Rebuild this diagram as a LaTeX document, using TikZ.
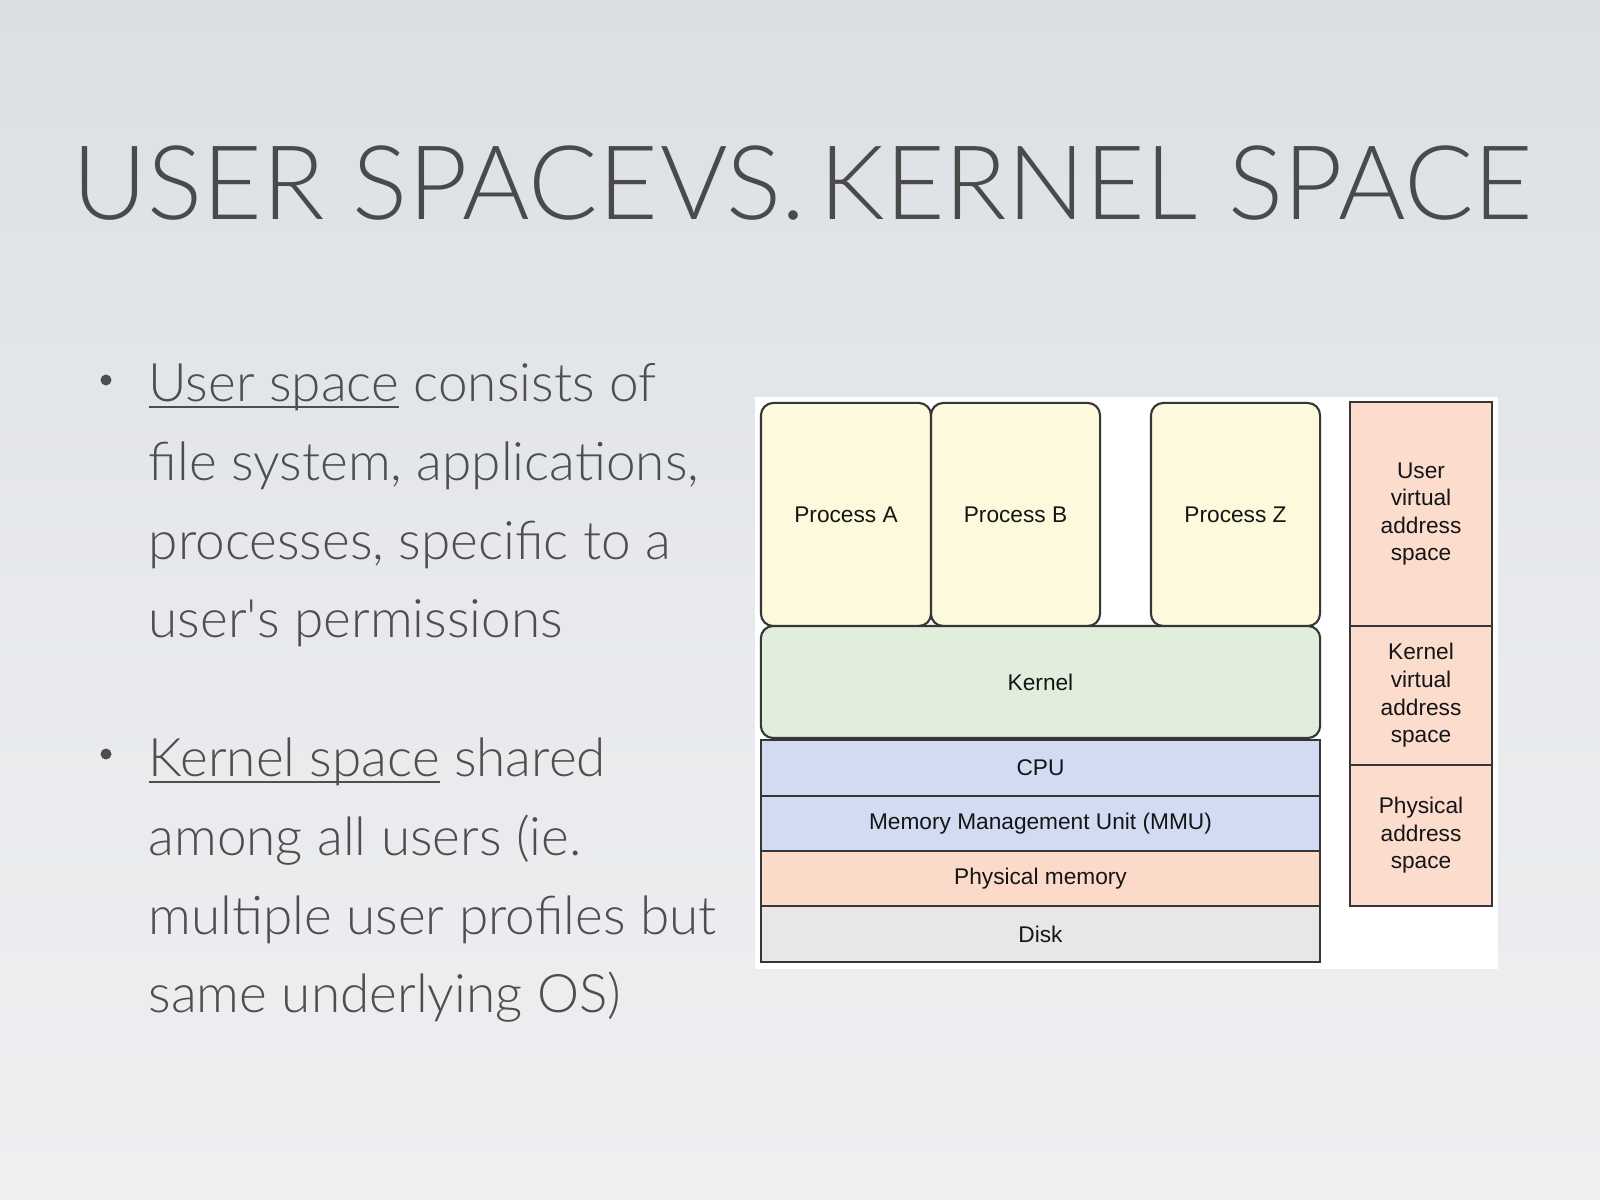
\documentclass[tikz,border=0pt]{standalone}
\usepackage{fontspec}
\setmainfont{Liberation Sans}
\newfontfamily\slidefont{Lato Light}
\definecolor{bgtop}{HTML}{DBDFE4}
\definecolor{bgmid}{HTML}{E7E9EC}
\definecolor{bgbot}{HTML}{EDEFF1}
\definecolor{titlegray}{HTML}{4A4A4A}
\definecolor{bodygray}{HTML}{4E4E4E}
\definecolor{boxline}{HTML}{363636}
\definecolor{diatext}{HTML}{151515}
\definecolor{procfill}{HTML}{FDF9DC}
\definecolor{kernfill}{HTML}{E1EEDC}
\definecolor{cpufill}{HTML}{D1DCF2}
\definecolor{physfill}{HTML}{FBDACA}
\definecolor{diskfill}{HTML}{E7E7E7}
\definecolor{addrfill}{HTML}{FCDCCD}
\newcommand\diafont{\fontsize{6.45}{7.85}\selectfont}
\newcommand\bodyfont{\slidefont\fontsize{15.1}{20}\selectfont}
\newcommand\myul[1]{\setbox0\hbox{#1}\rlap{\rule[-2.0pt]{\wd0}{0.55pt}}\box0\relax}
\begin{document}
\begin{tikzpicture}[x=0.01cm,y=-0.01cm,
  procbox/.style={draw=boxline, line width=0.6pt, rounded corners=3.5pt, fill=procfill, inner sep=0pt, font=\diafont, text=diatext},
  layerbox/.style={draw=boxline, line width=0.6pt, inner sep=0pt, font=\diafont, text=diatext, minimum width=5.59cm},
  addrbox/.style={draw=boxline, line width=0.6pt, inner sep=0pt, font=\diafont, text=diatext, fill=addrfill, minimum width=1.42cm, align=center},
  titletext/.style={anchor=base west, inner sep=0pt, text=titlegray, font=\slidefont\fontsize{29.3}{36}\selectfont},
  bodyline/.style={anchor=base west, inner sep=0pt, text=bodygray, font=\bodyfont},
  bulletdot/.style={circle, fill=bodygray, inner sep=0pt, minimum size=0.11cm}
]
\useasboundingbox (0,0) rectangle (1600,1200);
\shade[top color=bgtop, bottom color=bgbot, middle color=bgmid] (0,0) rectangle (1600,1200);

% title
\node[titletext] (title) at (72,219) {USER SPACE\hspace{-7.3pt} VS.\hspace{-4.0pt} KERNEL\hspace{0.9pt} SPACE};

% bullets
\node[bulletdot] (d1) at (106,380) {};
\node[bodyline] (b1a) at (148,401) {\myul{User space} consists of};
\node[bodyline] (b1b) at (148,480) {file system, applications,};
\node[bodyline] (b1c) at (148,559) {processes, specific to a};
\node[bodyline] (b1d) at (148,637) {user\textquotesingle s permissions};
\node[bulletdot] (d2) at (106,754) {};
\node[bodyline] (b2a) at (148,776) {\myul{Kernel space} shared};
\node[bodyline] (b2b) at (148,855) {among all users (ie.};
\node[bodyline] (b2c) at (148,934) {multiple user profiles but};
\node[bodyline] (b2d) at (148,1012) {same underlying OS)};

% diagram panel
\fill[white] (755,397) rectangle (1498,969);

\node[procbox, minimum width=1.70cm, minimum height=2.23cm] (pa) at (846,514.5) {Process A};
\node[procbox, minimum width=1.69cm, minimum height=2.23cm] (pb) at (1015.5,514.5) {Process B};
\node[procbox, minimum width=1.69cm, minimum height=2.23cm] (pz) at (1235.5,514.5) {Process Z};
\node[procbox, fill=kernfill, minimum width=5.59cm, minimum height=1.12cm] (kern) at (1040.5,682) {Kernel};

\node[layerbox, fill=cpufill, minimum height=0.56cm] (cpu) at (1040.5,768) {CPU};
\node[layerbox, fill=cpufill, minimum height=0.55cm] (mmu) at (1040.5,823.5) {Memory Management Unit (MMU)};
\node[layerbox, fill=physfill, minimum height=0.55cm] (phys) at (1040.5,878.5) {Physical memory};
\node[layerbox, fill=diskfill, minimum height=0.56cm] (disk) at (1040.5,934) {Disk};

\node[addrbox, minimum height=2.24cm] (uvas) at (1421,514) {User\\virtual\\address\\space};
\node[addrbox, minimum height=1.39cm] (kvas) at (1421,695.5) {Kernel\\virtual\\address\\space};
\node[addrbox, minimum height=1.41cm] (pas) at (1421,835.5) {Physical\\address\\space};
\end{tikzpicture}
\end{document}
